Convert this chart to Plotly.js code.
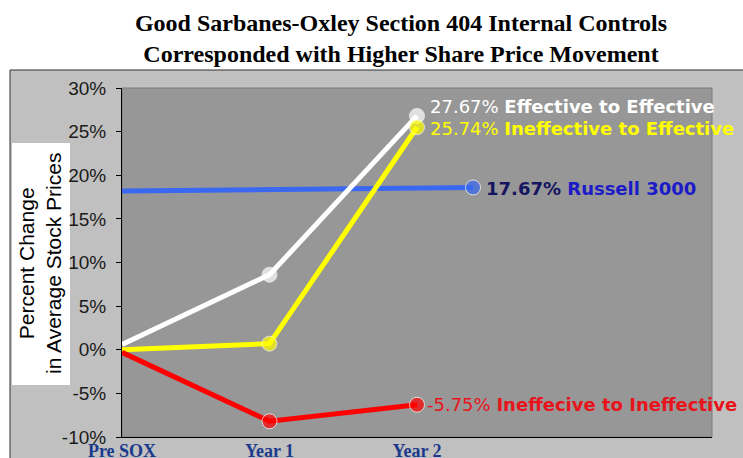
<!DOCTYPE html>
<html>
<head>
<meta charset="utf-8">
<script src="https://cdn.plot.ly/plotly-3.0.1.min.js"></script>
<style>html,body{margin:0;padding:0;background:#fff;}#chart{width:743px;height:458px;}</style>
</head>
<body>
<div id="chart"></div>
<script>
// ---- data ----
var categories = ["Pre SOX", "Year 1", "Year 2"];
var categoryPos = [0, 1, 2];
var effToEff = [0.6, 8.6, 26.8];
var ineffToEff = [0.0, 0.7, 25.5];
var ineffToIneff = [-0.3, -8.2, -6.3];
var russellX = [0, 2.38];
var russellY = [18.2, 18.6];
var labelTexts = {
  effToEff: ["27.67%", "Effective to Effective"],
  ineffToEff: ["25.74%", "Ineffective to Effective"],
  russell: ["17.67%", "Russell 3000"],
  ineffToIneff: ["-5.75%", "Ineffecive to Ineffective"]
};
var yTicks = [-10, -5, 0, 5, 10, 15, 20, 25, 30];

var mk = [0, 15, 15];
function series(y, color) {
  return {
    x: categoryPos, y: y, type: "scatter", mode: "lines+markers",
    line: {color: color, width: 5},
    marker: {color: color, size: mk},
    hoverinfo: "skip", showlegend: false, cliponaxis: false
  };
}
var traces = [
  {x: russellX, y: russellY, type: "scatter", mode: "lines+markers",
   line: {color: "#3a68f0", width: 5},
   marker: {color: "#3a68f0", size: [0, 15]}, showlegend: false, hoverinfo: "skip"},
  series(effToEff, "#ffffff"),
  series(ineffToEff, "#ffff00"),
  series(ineffToIneff, "#ff0000")
];

// pixel helpers for label placement (plot area: x 122-712, y 88-437)
function dx(px) { return (px - 122) / 147.5; }
function dy(py) { return (437 - py) / 8.725 - 10; }
function lbl(px, py, html) {
  return {xref: "x", yref: "y", x: dx(px), y: dy(py), xanchor: "left", yanchor: "middle",
    showarrow: false, text: html, borderpad: 0,
    font: {family: "DejaVu Sans", size: 18}};
}
var annotations = [
  lbl(429, 106, '<span style="color:#ffffff">' + labelTexts.effToEff[0] + ' <b>' + labelTexts.effToEff[1] + '</b></span>'),
  lbl(429, 128, '<span style="color:#ffff00">' + labelTexts.ineffToEff[0] + ' <b>' + labelTexts.ineffToEff[1] + '</b></span>'),
  lbl(485, 188, '<b><span style="color:#151560">' + labelTexts.russell[0] + '</span> <span style="color:#1b1bc8">' + labelTexts.russell[1] + '</span></b>'),
  lbl(426, 404, '<span style="color:#e8141c">' + labelTexts.ineffToIneff[0] + ' <b>' + labelTexts.ineffToIneff[1] + '</b></span>'),
  {xref: "paper", yref: "paper", x: (40 - 122) / 590, y: (437 - 264) / 349,
   xanchor: "center", yanchor: "middle", showarrow: false, textangle: -90,
   text: "Percent Change<br>in Average Stock Prices",
   font: {family: "Liberation Sans, Arial", size: 21, color: "#000"}}
];

var shapes = [
  {type: "rect", xref: "paper", yref: "paper", layer: "below",
   x0: (10 - 122) / 590, x1: (760 - 122) / 590, y0: (437 - 470) / 349, y1: (437 - 70) / 349,
   fillcolor: "#c0c0c0", line: {color: "#303030", width: 1}},
  {type: "rect", xref: "paper", yref: "paper", layer: "below",
   x0: (12 - 122) / 590, x1: (70 - 122) / 590, y0: (437 - 385) / 349, y1: (437 - 143) / 349,
   fillcolor: "#ffffff", line: {width: 0}},
  {type: "rect", xref: "paper", yref: "paper", layer: "below",
   x0: 0, x1: 1, y0: 0, y1: 1, fillcolor: "#979797", line: {color: "#7a7a7a", width: 1}}
];

var layout = {
  width: 743, height: 458,
  margin: {l: 122, r: 31, t: 88, b: 21},
  paper_bgcolor: "#ffffff",
  plot_bgcolor: "#979797",
  title: {
    text: "<b>Good Sarbanes-Oxley Section 404 Internal Controls<br>Corresponded with Higher Share Price Movement</b>",
    font: {family: "Liberation Serif, Times New Roman", size: 24, color: "#000"},
    x: 401 / 743, xanchor: "center", xref: "container",
    y: 1 - 31 / 458, yanchor: "top", yref: "container"
  },
  xaxis: {
    range: [0, 4], tickvals: categoryPos, ticktext: categories,
    showgrid: false, zeroline: false, showline: true, linecolor: "#000", linewidth: 1,
    ticks: "", ticklabelstandoff: -3,
    tickfont: {family: "Liberation Serif, Times New Roman", size: 18, color: "#1c3a8c", weight: "bold"}
  },
  yaxis: {
    range: [-10, 30], tickvals: yTicks, ticktext: yTicks.map(function (v) { return v + "%"; }),
    showgrid: false, zeroline: false, showline: true, linecolor: "#000", linewidth: 1,
    ticks: "outside", ticklen: 5, tickcolor: "#000", ticklabelstandoff: 6,
    tickfont: {family: "Liberation Sans, Arial", size: 19, color: "#1a1a1a"}
  },
  shapes: shapes,
  annotations: annotations,
  showlegend: false
};

Plotly.newPlot("chart", traces, layout, {displayModeBar: false, staticPlot: true});
</script>
</body>
</html>
